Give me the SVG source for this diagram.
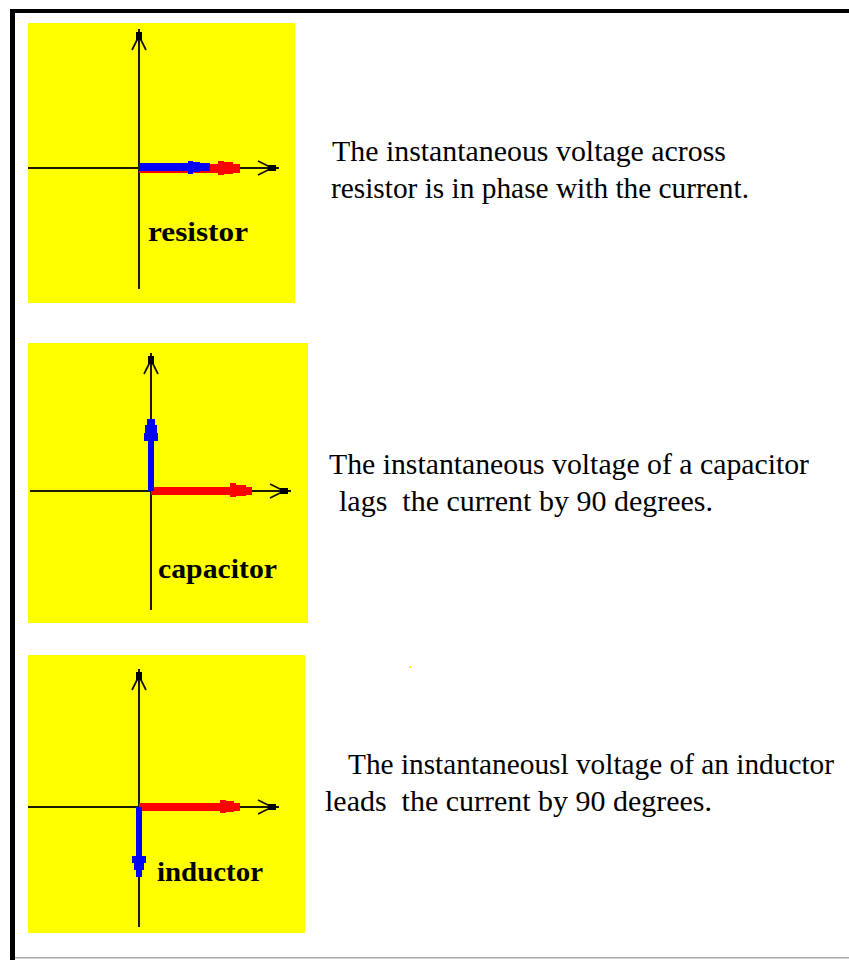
<svg xmlns="http://www.w3.org/2000/svg" xmlns:xlink="http://www.w3.org/1999/xlink" width="849" height="960" viewBox="0 0 849 960">
  <defs>
    <style>
      .panel { fill: #FFFF00; }
      .axis { stroke: #1a1a00; stroke-width: 2; fill: none; }
      .arm { stroke: #111; stroke-width: 1.7; fill: none; }
      .tipbox { fill: #000; }
      .blue { fill: #0000FF; }
      .red { fill: #FF0000; }
      .label { font-family: "Liberation Serif", "Times New Roman", serif; font-weight: bold; font-size: 28px; fill: #000; }
      .desc { font-family: "Liberation Serif", "Times New Roman", serif; font-size: 29px; fill: #000; white-space: pre; }
    </style>
    <g id="hhead">
      <path class="arm" d="M-22,-7 L-11,-1.5 M-22,7 L-11,1.5"/>
      <rect class="tipbox" x="-12" y="-3" width="8" height="6"/>
    </g>
  </defs>

  <rect width="849" height="960" fill="#FFFFFF"/>

  <!-- frame -->
  <g id="frame">
    <rect x="10" y="9" width="839" height="4" fill="#000"/>
    <rect x="10" y="9" width="5" height="951" fill="#000"/>
    <rect x="15" y="957" width="834" height="1.5" fill="#AAAAAA"/>
  </g>

  <!-- resistor panel -->
  <g id="resistor">
    <rect class="panel" x="28" y="23" width="267" height="280"/>
    <line class="axis" x1="28" y1="168" x2="279" y2="168"/>
    <line class="axis" x1="139" y1="289" x2="139" y2="29"/>
    <use xlink:href="#hhead" transform="translate(280,168)"/>
    <use xlink:href="#hhead" transform="translate(139,28) rotate(-90)"/>
    <path class="red" d="M139,164 H218 V161 H224 V162 H233 V164 H240 V173 H233 V174 H224 V175 H218 V173 H139 Z"/>
    <path class="blue" d="M139,163 H188 V161 H193 V162 H200 V163 H210 V171 H200 V172 H193 V174 H188 V171 H139 Z"/>
    <text class="label" x="148" y="241" textLength="100" lengthAdjust="spacingAndGlyphs">resistor</text>
  </g>

  <!-- capacitor panel -->
  <g id="capacitor">
    <rect class="panel" x="28" y="343" width="280" height="280"/>
    <line class="axis" x1="30" y1="491" x2="291" y2="491"/>
    <line class="axis" x1="151" y1="610" x2="151" y2="353"/>
    <use xlink:href="#hhead" transform="translate(292,491)"/>
    <use xlink:href="#hhead" transform="translate(151,352) rotate(-90)"/>
    <path class="red" d="M151,487 H230 V483 H236 V485 H246 V487 H252 V495 H246 V496 H236 V497 H230 V495 H151 Z"/>
    <path class="blue" d="M148,491 V441 H144 V433 H145 V425 H147 V419 H155 V425 H157 V433 H158 V441 H154 V491 Z"/>
    <text class="label" x="158" y="578" textLength="119" lengthAdjust="spacingAndGlyphs">capacitor</text>
  </g>

  <!-- inductor panel -->
  <g id="inductor">
    <rect class="panel" x="28" y="655" width="277" height="278"/>
    <line class="axis" x1="28" y1="807" x2="279" y2="807"/>
    <line class="axis" x1="139" y1="927" x2="139" y2="669"/>
    <use xlink:href="#hhead" transform="translate(280,807)"/>
    <use xlink:href="#hhead" transform="translate(139,668) rotate(-90)"/>
    <path class="red" d="M139,803 H220 V800 H226 V801 H234 V803 H240 V811 H234 V812 H226 V813 H220 V811 H139 Z"/>
    <path class="blue" d="M136,807 H142 V856 H146 V863 H144 V870 H142 V877 H136 V870 H134 V863 H132 V856 H136 Z"/>
    <text class="label" x="157" y="881" textLength="106" lengthAdjust="spacingAndGlyphs">inductor</text>
  </g>

  <rect x="409" y="666" width="2" height="2" fill="#FFFF00"/>

  <!-- descriptions -->
  <g id="desc-resistor">
    <text class="desc" x="332" y="161" textLength="394" lengthAdjust="spacingAndGlyphs">The instantaneous voltage across</text>
    <text class="desc" x="331" y="198" textLength="418" lengthAdjust="spacingAndGlyphs">resistor is in phase with the current.</text>
  </g>
  <g id="desc-capacitor">
    <text class="desc" x="329" y="474" textLength="480" lengthAdjust="spacingAndGlyphs">The instantaneous voltage of a capacitor</text>
    <text class="desc" x="339" y="511" textLength="374" lengthAdjust="spacingAndGlyphs">lags  the current by 90 degrees.</text>
  </g>
  <g id="desc-inductor">
    <text class="desc" x="348" y="774" textLength="486" lengthAdjust="spacingAndGlyphs">The instantaneousl voltage of an inductor</text>
    <text class="desc" x="325" y="811" textLength="387" lengthAdjust="spacingAndGlyphs">leads  the current by 90 degrees.</text>
  </g>
</svg>
